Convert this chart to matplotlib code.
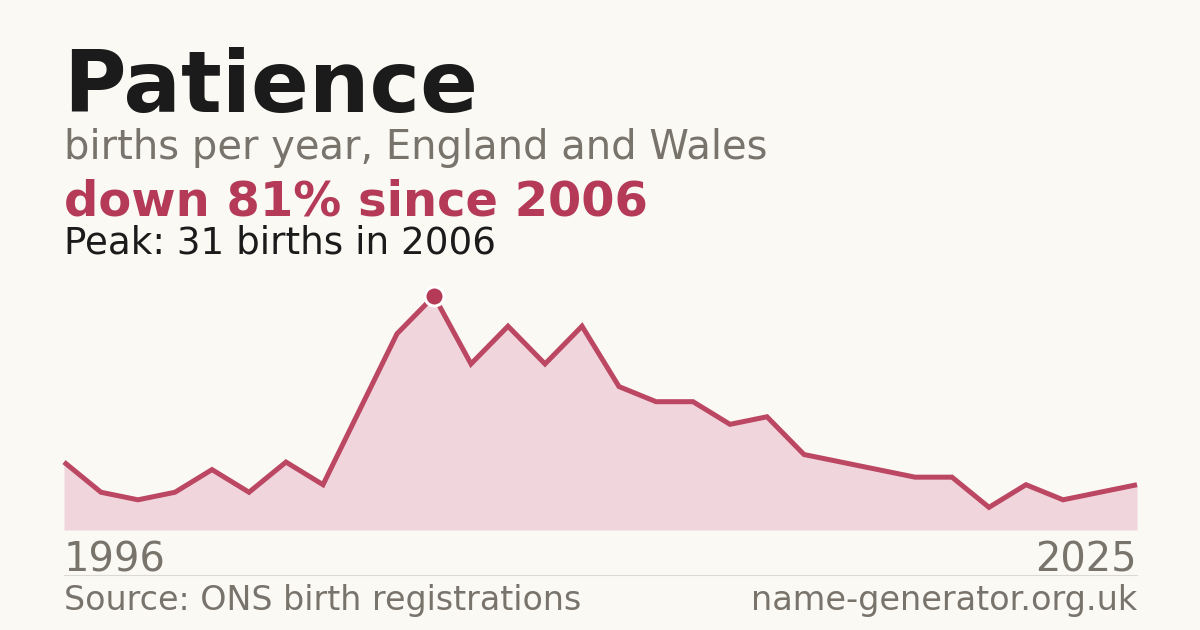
import matplotlib
matplotlib.use("Agg")
import matplotlib.pyplot as plt

years = list(range(1996, 2026))
births = [9, 5, 4, 5, 8, 5, 9, 6, 16, 26, 31, 22, 27, 22, 27, 19, 17, 17,
          14, 15, 10, 9, 8, 7, 7, 3, 6, 4, 5, 6]
name = "Patience"
subtitle = "births per year, England and Wales"
change_text = "down 81% since 2006"
peak_text = "Peak: 31 births in 2006"
source = "Source: ONS birth registrations"
site = "name-generator.org.uk"

BG = "#faf9f4"
RED = "#b43a58"
LINE = "#bb4763"
FILL = "#f1d5dc"
GREY = "#78736b"
DARK = "#1b1b1b"

W, H = 1200, 630
fig = plt.figure(figsize=(W / 100, H / 100), dpi=100, facecolor=BG)


def px(x, y):
    return x / W, 1 - y / H


def pt(pixels):
    return pixels * 72 / 100


def text(x, y, s, size, color, weight="normal", ha="left"):
    fx, fy = px(x, y)
    fig.text(fx, fy, s, fontsize=pt(size), color=color, fontweight=weight,
             ha=ha, va="baseline", family="DejaVu Sans")


text(63, 112, name, 85.4, DARK, "bold")
text(64, 159, subtitle, 40, GREY)
text(64, 215, change_text, 48, RED, "bold")
text(64, 253, peak_text, 37.3, DARK)

# chart area
left, right, base, top = 64, 1137, 530, 296
ax = fig.add_axes([left / W, 1 - base / H, (right - left) / W, (base - top) / H])
ax.set_facecolor("none")
ax.fill_between(years, births, 0, color=FILL, lw=0)
ax.plot(years, births, color=LINE, lw=pt(5), solid_joinstyle="miter",
        solid_capstyle="butt", clip_on=False)
peak_i = births.index(max(births))
ax.plot(years[peak_i], births[peak_i], "o", ms=pt(19), color=RED,
        mec="white", mew=pt(3), clip_on=False, zorder=5)
ax.set_xlim(years[0], years[-1])
ax.set_ylim(0, max(births))
ax.axis("off")

text(64, 571, str(years[0]), 40, GREY)
text(1137, 571, str(years[-1]), 40, GREY, ha="right")

fig.add_artist(plt.Line2D([left / W, right / W], [1 - 574.5 / H] * 2,
                          color="#dcd9d2", lw=0.8))

text(64, 610, source, 33.3, GREY)
text(1137, 610, site, 33.5, GREY, ha="right")

fig.savefig("out.png", dpi=100, facecolor=BG)
